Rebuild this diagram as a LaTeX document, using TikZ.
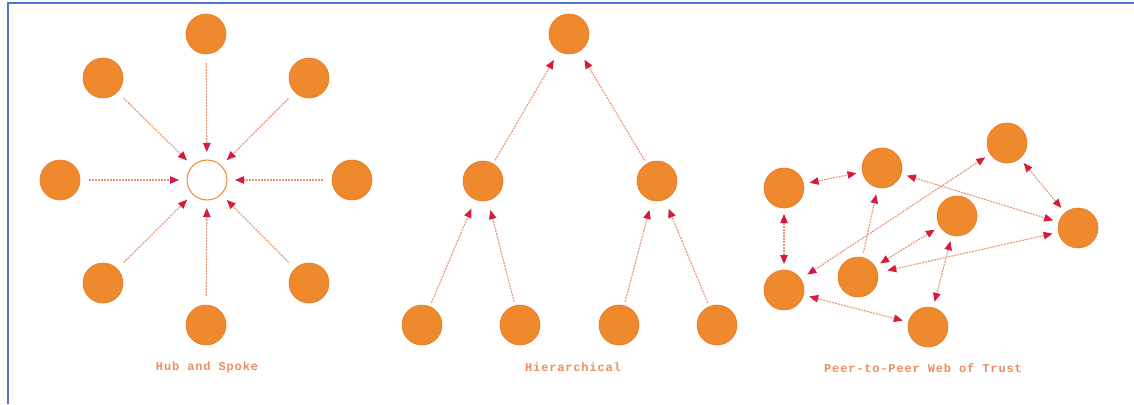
\documentclass[tikz,border=0pt]{standalone}
\usepackage{fontspec}
\newfontfamily\labfont[LetterSpace=7]{Liberation Mono}
\usetikzlibrary{arrows.meta}
\definecolor{nodeor}{RGB}{239,137,45}
\definecolor{nodeedge}{RGB}{232,120,40}
\definecolor{linecol}{RGB}{230,150,115}
\definecolor{tipred}{RGB}{214,28,62}
\definecolor{labcol}{RGB}{236,140,95}
\definecolor{frameblue}{RGB}{74,120,196}
\tikzset{
  peer/.style={circle,fill=nodeor,draw=nodeedge,line width=0.6pt,minimum size=40pt,inner sep=0pt,outer sep=0pt},
  hub/.style={circle,fill=white,draw=nodeor,line width=1pt,minimum size=40pt,inner sep=0pt,outer sep=0pt},
  link/.style={draw=linecol,line width=1.1pt,dash pattern=on 2pt off 1pt},
  tip/.tip={Triangle[length=9pt,width=7.5pt,color=tipred]},
  one/.style={link,-tip},
  two/.style={link,tip-tip},
  caption/.style={text=labcol,font=\labfont\bfseries\fontsize{12}{13}\selectfont,inner sep=0pt},
}
\begin{document}
\begin{tikzpicture}[x=1pt,y=-1pt]
\useasboundingbox (0,0) rectangle (1134,404);
\draw[frameblue,line width=2pt] (8,404) -- (8,3) -- (1134,3);

% Hub and spoke
\node[hub] (h) at (207,180) {};
\node[peer] (s1) at (206,34) {};
\node[peer] (s2) at (309,78) {};
\node[peer] (s3) at (352,180) {};
\node[peer] (s4) at (309,283) {};
\node[peer] (s5) at (206,325) {};
\node[peer] (s6) at (103,283) {};
\node[peer] (s7) at (60,180) {};
\node[peer] (s8) at (103,78) {};
\foreach \s in {s1,s2,s3,s4,s5,s6,s7,s8}
  \draw[one,shorten <=9pt,shorten >=8pt] (\s) -- (h);
\node[caption] (c1) at (207,367) {Hub and Spoke};

% Hierarchical
\node[peer] (t) at (569,34) {};
\node[peer] (ml) at (483,181) {};
\node[peer] (mr) at (657,181) {};
\node[peer] (b1) at (422,325) {};
\node[peer] (b2) at (520,325) {};
\node[peer] (b3) at (619,325) {};
\node[peer] (b4) at (717,325) {};
\draw[one,shorten <=4pt,shorten >=10pt] (ml) -- (t);
\draw[one,shorten <=4pt,shorten >=10pt] (mr) -- (t);
\draw[one,shorten <=4pt,shorten >=10pt] (b1) -- (ml);
\draw[one,shorten <=4pt,shorten >=10pt] (b2) -- (ml);
\draw[one,shorten <=4pt,shorten >=10pt] (b3) -- (mr);
\draw[one,shorten <=4pt,shorten >=10pt] (b4) -- (mr);
\node[caption] (c2) at (573,367) {Hierarchical};

% Peer-to-peer
\node[peer] (pa) at (784,188) {};
\node[peer] (pb) at (882,168) {};
\node[peer] (pc) at (1007,143) {};
\node[peer] (pd) at (957,216) {};
\node[peer] (pe) at (1078,228) {};
\node[peer] (pf) at (858,277) {};
\node[peer] (pg) at (784,290) {};
\node[peer] (ph) at (928,327) {};
\draw[two,shorten <=6pt,shorten >=6pt] (pa) -- (pb);
\draw[two,shorten <=6pt,shorten >=6pt] (pa) -- (pg);
\draw[two,shorten <=6pt,shorten >=6pt] (pg) -- (ph);
\draw[two,shorten <=6pt,shorten >=6pt] (pb) -- (pe);
\draw[two,shorten <=6pt,shorten >=6pt] (pc) -- (pe);
\draw[two,shorten <=8pt,shorten >=6pt] (pg) -- (pc);
\draw[one,shorten <=5pt,shorten >=7pt] (pf) -- (pb);
\draw[two,shorten <=6pt,shorten >=6pt] (pf) -- (pd);
\draw[two,shorten <=10pt,shorten >=6pt] (pf) -- (pe);
\draw[two,shorten <=6pt,shorten >=6pt] (pd) -- (ph);
\node[caption] (c3) at (923,368) {Peer-to-Peer Web of Trust};
\end{tikzpicture}
\end{document}
